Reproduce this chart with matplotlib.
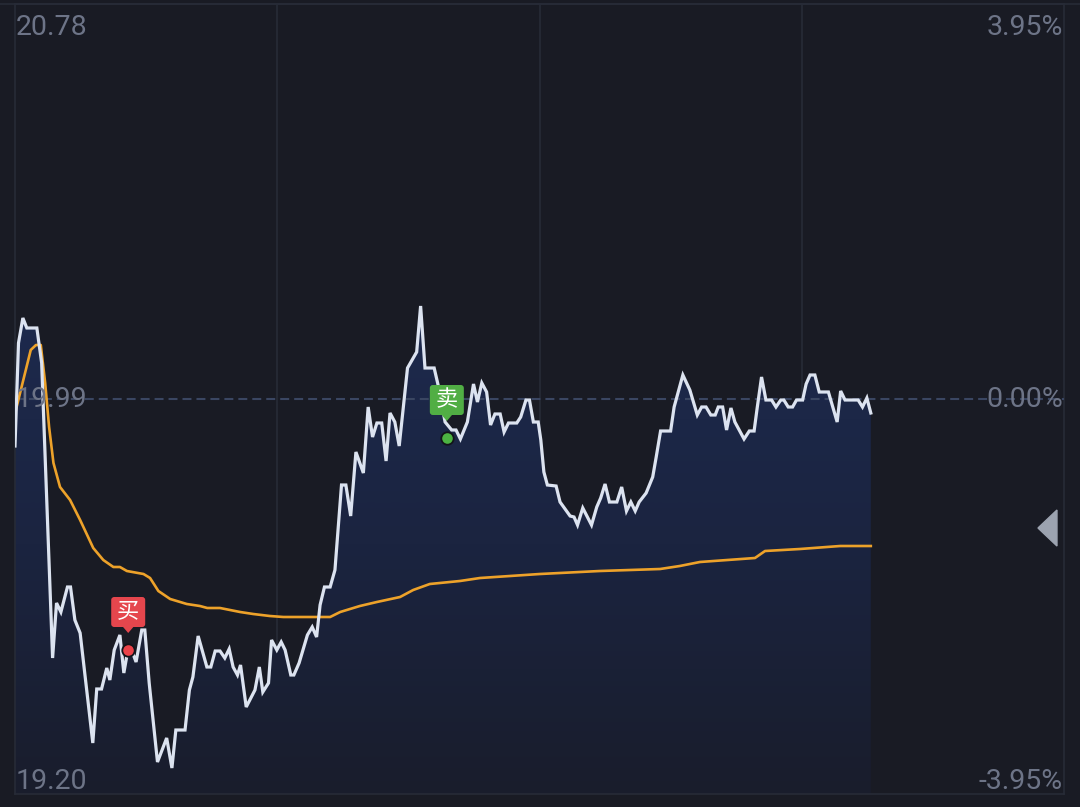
import matplotlib
matplotlib.use("Agg")
import matplotlib.pyplot as plt
import matplotlib.patches as mpatches
from matplotlib.transforms import IdentityTransform, blended_transform_factory
from matplotlib.colors import LinearSegmentedColormap
import numpy as np

# ---------------- data ----------------
prev_close = 19.99
price_low, price_high = 19.20, 20.78
pct_labels = ["3.95%", "0.00%", "-3.95%"]
session_minutes = 240
grid_minutes = [60, 120, 180]

minutes = [0.0, 0.8, 1.8, 2.7, 5.0, 6.1, 8.6, 9.5, 10.5, 12.0, 12.7, 13.7, 14.9, 17.8, 18.7,
           19.8, 21.0, 21.7, 22.7, 24.0, 24.9, 25.7, 26.5, 27.7, 29.0, 29.7, 30.7, 32.6, 34.7,
           35.9, 36.8, 38.9, 39.9, 40.7, 41.9, 43.9, 44.8, 45.8, 46.9, 48.0, 49.0, 49.9, 50.9,
           51.6, 52.9, 54.9, 55.9, 56.7, 58.0, 58.7, 59.9, 60.9, 61.8, 63.1, 63.8, 65.0, 66.9,
           68.0, 69.0, 69.8, 70.8, 72.1, 73.2, 74.7, 75.7, 76.8, 78.0, 79.7, 80.8, 81.8, 82.8,
           83.9, 84.9, 85.8, 86.9, 87.9, 89.8, 91.9, 92.8, 93.8, 95.9, 96.8, 98.4, 99.9, 100.9,
           101.9, 103.5, 104.9, 105.8, 106.8, 107.9, 108.8, 109.8, 111.0, 111.9, 112.9, 114.8,
           115.7, 116.9, 117.7, 118.6, 119.7, 120.3, 121.0, 121.8, 123.8, 124.7, 127.0, 127.9,
           128.7, 129.9, 131.9, 133.1, 134.0, 135.0, 136.0, 137.7, 138.8, 139.9, 140.9, 141.9,
           142.8, 144.4, 145.9, 146.7, 147.7, 150.0, 150.8, 152.8, 154.4, 156.1, 157.1, 158.1,
           159.2, 160.2, 160.9, 161.9, 162.8, 163.8, 164.7, 165.7, 166.8, 168.0, 169.1, 169.8,
           170.8, 171.8, 173.1, 174.1, 175.2, 175.9, 176.9, 177.9, 178.8, 180.2, 181.0, 181.9,
           183.0, 184.0, 186.1, 188.1, 188.9, 189.9, 192.9, 193.9, 194.9, 195.8]

prices = [19.896, 20.102, 20.152, 20.132, 20.132, 20.062, 19.472, 19.582, 19.564, 19.614,
          19.614, 19.548, 19.522, 19.302, 19.410, 19.410, 19.452, 19.428, 19.488, 19.518,
          19.442, 19.482, 19.492, 19.464, 19.528, 19.528, 19.422, 19.264, 19.312, 19.252,
          19.328, 19.328, 19.408, 19.434, 19.516, 19.454, 19.454, 19.486, 19.486, 19.472,
          19.490, 19.454, 19.438, 19.458, 19.374, 19.408, 19.454, 19.404, 19.422, 19.508,
          19.488, 19.504, 19.488, 19.438, 19.438, 19.462, 19.518, 19.534, 19.514, 19.578,
          19.614, 19.614, 19.648, 19.818, 19.818, 19.756, 19.884, 19.842, 19.974, 19.914,
          19.942, 19.942, 19.866, 19.962, 19.944, 19.896, 20.052, 20.084, 20.176, 20.052,
          20.052, 20.018, 19.944, 19.928, 19.928, 19.910, 19.944, 20.020, 19.984, 20.022,
          20.004, 19.938, 19.960, 19.960, 19.924, 19.942, 19.942, 19.954, 19.988, 19.988,
          19.944, 19.944, 19.908, 19.844, 19.818, 19.816, 19.784, 19.756, 19.754, 19.738,
          19.772, 19.738, 19.774, 19.792, 19.820, 19.784, 19.784, 19.814, 19.766, 19.784,
          19.766, 19.784, 19.802, 19.834, 19.874, 19.926, 19.926, 19.974, 20.038, 20.008,
          19.958, 19.974, 19.974, 19.958, 19.958, 19.974, 19.974, 19.928, 19.972, 19.944,
          19.928, 19.910, 19.926, 19.926, 19.972, 20.034, 19.988, 19.988, 19.974, 19.988,
          19.988, 19.974, 19.974, 19.988, 19.988, 20.020, 20.038, 20.038, 20.004, 20.004,
          19.944, 20.006, 19.988, 19.988, 19.974, 19.992, 19.962]

avg_minutes = [0.2, 1.9, 3.6, 4.8, 5.9, 6.9, 7.8, 8.8, 10.3, 12.6, 14.9, 17.9, 20.2, 22.5,
               24.0, 25.6, 29.4, 30.9, 32.8, 35.5, 39.3, 42.3, 44.0, 46.9, 51.5, 54.5, 58.3,
               61.4, 72.1, 74.4, 78.9, 82.8, 88.1, 91.1, 94.9, 101.8, 106.4, 120.1, 133.8,
               147.6, 152.1, 156.7, 169.3, 171.6, 179.6, 188.8, 195.8]
avg_prices = [19.968, 20.028, 20.088, 20.098, 20.098, 20.022, 19.934, 19.862, 19.814, 19.788,
              19.748, 19.692, 19.668, 19.654, 19.654, 19.646, 19.640, 19.632, 19.606, 19.590,
              19.580, 19.576, 19.572, 19.572, 19.564, 19.560, 19.556, 19.554, 19.554, 19.564,
              19.576, 19.584, 19.594, 19.608, 19.620, 19.626, 19.632, 19.640, 19.646, 19.650,
              19.656, 19.664, 19.672, 19.686, 19.690, 19.696, 19.696]

trade_labels = ["买", "卖"]
trade_minutes = [25.9, 98.8]
trade_prices = [19.488, 19.912]

# ---------------- styling ----------------
BG = "#191b24"
FRAME = "#272b37"
TEXT = "#6d7487"
LINE = "#dce3f0"
AVG = "#eda22a"
DASH = "#3a4662"
TRADE_COLORS = ["#e5464d", "#51ae44"]
DOT_COLORS = ["#ea4249", "#4cb342"]

plt.rcParams['font.family'] = ['Roboto', 'Noto Sans CJK SC', 'DejaVu Sans']

W, H, DPI = 1080, 807, 100
fig = plt.figure(figsize=(W / DPI, H / DPI), dpi=DPI, facecolor=BG)
ax = fig.add_axes([15 / W, 13 / H, 1049 / W, 790 / H])
ax.set_facecolor(BG)
ax.set_xlim(0, session_minutes)
ax.set_ylim(price_low, price_high)
ax.set_xticks([])
ax.set_yticks([])
for s in ax.spines.values():
    s.set_color(FRAME)
    s.set_linewidth(1.2)

# top border across full width
fig.add_artist(plt.Line2D([0, 1], [1 - 3.5 / H, 1 - 3.5 / H], transform=fig.transFigure,
                          color=FRAME, lw=1.2))

for gm in grid_minutes:
    ax.axvline(gm, color=FRAME, lw=1.2, zorder=1)

# gradient fill under the price line
poly = ax.fill_between(minutes, prices, price_low, facecolor='none', edgecolor='none')
cmap = LinearSegmentedColormap.from_list("fill", ["#191d2c", "#1b2440", "#1d2a4e"])
grad = np.linspace(0, 1, 256).reshape(-1, 1)
im = ax.imshow(grad, extent=[0, session_minutes, price_low, 20.2], origin='lower',
               aspect='auto', cmap=cmap, zorder=2, interpolation='bilinear')
im.set_clip_path(poly.get_paths()[0], transform=ax.transData)
ax.set_xlim(0, session_minutes)
ax.set_ylim(price_low, price_high)

# previous close dashed line
ax.axhline(prev_close, color=DASH, lw=1.5, dashes=(4.3, 2.4), zorder=3)

# average line and price line
ax.plot(avg_minutes, avg_prices, color=AVG, lw=1.9, zorder=4, solid_joinstyle='round')
ax.plot(minutes, prices, color=LINE, lw=2.3, zorder=5, solid_joinstyle='miter')

# labels
tr = blended_transform_factory(ax.transAxes, ax.transData)
fs = 20.5
ax.text(0.001, 20.718, f"{price_high:.2f}", transform=tr, color=TEXT, fontsize=fs,
        ha='left', va='baseline', zorder=10)
ax.text(0.001, 19.974, f"{prev_close:.2f}", transform=tr, color=TEXT, fontsize=fs,
        ha='left', va='baseline', zorder=10)
ax.text(0.001, 19.210, f"{price_low:.2f}", transform=tr, color=TEXT, fontsize=fs,
        ha='left', va='baseline', zorder=10)
ax.text(0.999, 20.718, pct_labels[0], transform=tr, color=TEXT, fontsize=fs,
        ha='right', va='baseline', zorder=10)
ax.text(0.999, 19.974, pct_labels[1], transform=tr, color=TEXT, fontsize=fs,
        ha='right', va='baseline', zorder=10)
ax.text(0.999, 19.210, pct_labels[2], transform=tr, color=TEXT, fontsize=fs,
        ha='right', va='baseline', zorder=10)

# right-side triangle
tri = mpatches.Polygon([(0.9752, 0.3367), (0.9933, 0.3595), (0.9933, 0.3139)],
                       closed=True, transform=ax.transAxes, color="#9ca3b0", zorder=10)
ax.add_patch(tri)

# trade markers
fig.canvas.draw()
for lab, tm, tp, bc, dc in zip(trade_labels, trade_minutes, trade_prices, TRADE_COLORS, DOT_COLORS):
    ax.scatter([tm], [tp], s=80, color=dc, edgecolors="#12141a", linewidths=1.3, zorder=8)
    px, py = ax.transData.transform((tm, tp))
    bw, bh = 34, 30
    cx, cy = px, py + 38
    box = mpatches.FancyBboxPatch((cx - bw / 2 + 3, cy - bh / 2 + 3), bw - 6, bh - 6,
                                  boxstyle="round,pad=3", transform=IdentityTransform(),
                                  facecolor=bc, edgecolor='none', zorder=9)
    fig.add_artist(box)
    ptr = mpatches.Polygon([(cx - 6, cy - bh / 2 + 1), (cx + 6, cy - bh / 2 + 1), (cx, cy - bh / 2 - 6)],
                           closed=True, transform=IdentityTransform(), facecolor=bc,
                           edgecolor='none', zorder=9)
    fig.add_artist(ptr)
    fig.text(cx / W, cy / H, lab, color="white", fontsize=16, ha='center', va='center',
             family=['Noto Sans CJK SC', 'DejaVu Sans'], zorder=11)

fig.savefig("out.png", dpi=DPI, facecolor=BG)
